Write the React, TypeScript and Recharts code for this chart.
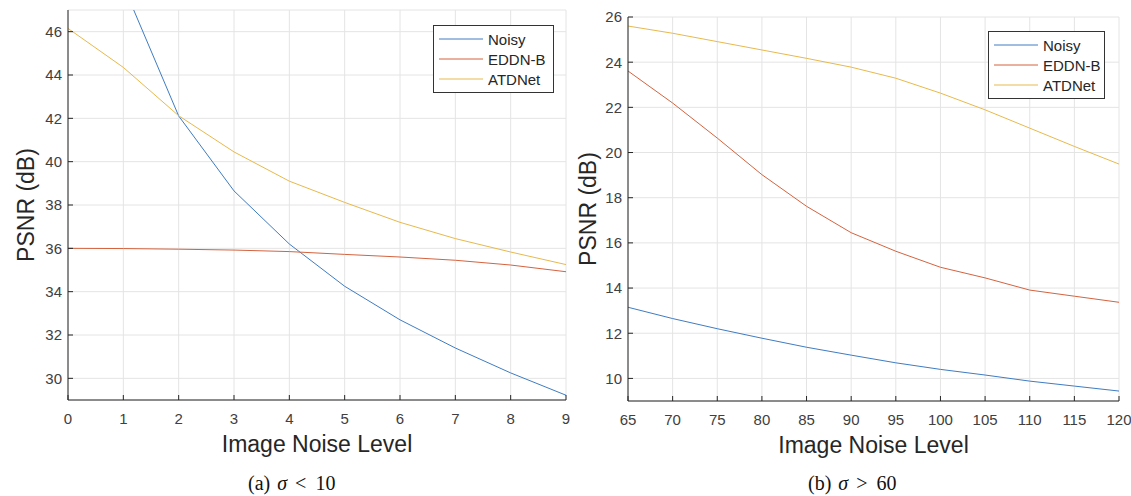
import { LineChart, Line, XAxis, YAxis, CartesianGrid, Legend } from "recharts";

// (a) sigma < 10
const levelsA = [0, 1, 2, 3, 4, 5, 6, 7, 8, 9];
const noisyA = [null, 48.13, 42.11, 38.65, 36.2, 34.25, 32.7, 31.4, 30.25, 29.22];
const eddnA = [36.0, 35.99, 35.96, 35.92, 35.85, 35.72, 35.6, 35.45, 35.23, 34.92];
const atdA = [46.15, 44.35, 42.12, 40.45, 39.1, 38.12, 37.2, 36.45, 35.83, 35.25];
const yTicksA = [30, 32, 34, 36, 38, 40, 42, 44, 46];

// (b) sigma > 60
const levelsB = [65, 70, 75, 80, 85, 90, 95, 100, 105, 110, 115, 120];
const noisyB = [13.15, 12.65, 12.2, 11.78, 11.38, 11.03, 10.69, 10.4, 10.15, 9.88, 9.66, 9.44];
const eddnB = [23.61, 22.19, 20.64, 19.02, 17.62, 16.45, 15.63, 14.92, 14.45, 13.91, 13.64, 13.37];
const atdB = [25.6, 25.28, 24.91, 24.54, 24.17, 23.78, 23.29, 22.63, 21.89, 21.08, 20.27, 19.49];
const yTicksB = [10, 12, 14, 16, 18, 20, 22, 24, 26];

const seriesNames = ["Noisy", "EDDN-B", "ATDNet"];

const BLUE = "#3f7cc2";
const RED = "#d4633f";
const YELLOW = "#e8b94c";
const colors = [BLUE, RED, YELLOW];
const SANS = "'Liberation Sans', Arial, sans-serif";
const SERIF = "'Liberation Serif', 'Times New Roman', serif";
const AXIS = "#262626";

const toRows = (xs: number[], n: (number | null)[], e: number[], a: number[]) =>
  xs.map((x, i) => ({ level: x, noisy: n[i], eddn: e[i], atd: a[i] }));

function LegendBox({ w }: { w: number }) {
  return (
    <div style={{ width: w, height: 63, border: "1px solid #333", background: "#fff", fontFamily: SANS, fontSize: 15, color: AXIS, paddingTop: 3 }}>
      {seriesNames.map((name, i) => (
        <div key={name} style={{ display: "flex", alignItems: "center", height: 20 }}>
          <svg width={54} height={20}>
            <line x1={5} x2={49} y1={10} y2={10} stroke={colors[i]} strokeWidth={1} />
          </svg>
          <span>{name}</span>
        </div>
      ))}
    </div>
  );
}

// MATLAB style ticks pointing into the plot
function XTick({ x, y, payload }: any) {
  return (
    <g>
      <line x1={x} x2={x} y1={y - 13} y2={y - 18} stroke={AXIS} />
      <text x={x} y={y} dy="0.71em" textAnchor="middle" fontSize={15} fill="#404040" fontFamily={SANS}>{payload.value}</text>
    </g>
  );
}

function YTick({ x, y, payload }: any) {
  return (
    <g>
      <line x1={x + 6} x2={x + 11} y1={y} y2={y} stroke={AXIS} />
      <text x={x} y={y} dy="0.355em" textAnchor="end" fontSize={15} fill="#404040" fontFamily={SANS}>{payload.value}</text>
    </g>
  );
}

type PanelProps = {
  data: any[];
  xTicks: number[];
  yTicks: number[];
  xDomain: [number, number];
  yDomain: [number, number];
  width: number;
  height: number;
  top: number;
  right: number;
  yLabelOffset: number;
  legendLeft: number;
  legendTop: number;
  legendW: number;
};

function Panel(p: PanelProps) {
  return (
    <LineChart width={p.width} height={p.height} data={p.data} margin={{ top: p.top, right: p.right, left: 0, bottom: 0 }}>
      <CartesianGrid stroke="#e4e4e4" />
      <XAxis
        dataKey="level"
        type="number"
        domain={p.xDomain}
        ticks={p.xTicks}
        interval={0}
        height={70}
        tickSize={0}
        tickMargin={13}
        tickLine={false}
        tick={<XTick />}
        stroke={AXIS}
        label={{ value: "Image Noise Level", position: "insideTop", offset: 36, style: { fontSize: 23, fill: AXIS, fontFamily: SANS } }}
      />
      <YAxis
        type="number"
        domain={p.yDomain}
        ticks={p.yTicks}
        interval={0}
        allowDataOverflow
        width={68}
        tickSize={0}
        tickMargin={6}
        tickLine={false}
        tick={<YTick />}
        stroke={AXIS}
        label={{ value: "PSNR (dB)", angle: -90, position: "insideLeft", offset: p.yLabelOffset, style: { fontSize: 23, fill: AXIS, fontFamily: SANS, textAnchor: "middle" } }}
      />
      <Legend
        layout="vertical"
        align="center"
        verticalAlign="middle"
        wrapperStyle={{ left: p.legendLeft, top: p.legendTop }}
        content={() => <LegendBox w={p.legendW} />}
      />
      <Line type="linear" dataKey="noisy" name="Noisy" stroke={BLUE} strokeWidth={1} dot={false} isAnimationActive={false} />
      <Line type="linear" dataKey="eddn" name="EDDN-B" stroke={RED} strokeWidth={1} dot={false} isAnimationActive={false} />
      <Line type="linear" dataKey="atd" name="ATDNet" stroke={YELLOW} strokeWidth={1} dot={false} isAnimationActive={false} />
    </LineChart>
  );
}

function Caption({ tag, rel, val, left }: { tag: string; rel: string; val: string; left: number }) {
  return (
    <div style={{ position: "absolute", left, top: 472, fontFamily: SERIF, fontSize: 20, color: "#111", whiteSpace: "nowrap", lineHeight: "22px" }}>
      <span>({tag})</span>
      <i style={{ marginLeft: 7 }}>σ</i>
      <span style={{ marginLeft: 8 }}>{rel}</span>
      <span style={{ marginLeft: 9 }}>{val}</span>
    </div>
  );
}

export default function App() {
  return (
    <div style={{ position: "absolute", left: 0, top: 0, width: 1131, height: 496, background: "#fff", overflow: "hidden" }}>
      <div style={{ position: "absolute", left: 0, top: 0 }}>
        <Panel
          data={toRows(levelsA, noisyA, eddnA, atdA)}
          xTicks={levelsA}
          yTicks={yTicksA}
          xDomain={[0, 9]}
          yDomain={[29, 47]}
          width={580}
          height={470}
          top={10}
          right={14}
          yLabelOffset={26}
          legendLeft={433}
          legendTop={25}
          legendW={119}
        />
      </div>
      <div style={{ position: "absolute", left: 560, top: 0 }}>
        <Panel
          data={toRows(levelsB, noisyB, eddnB, atdB)}
          xTicks={levelsB}
          yTicks={yTicksB}
          xDomain={[65, 120]}
          yDomain={[9, 26]}
          width={571}
          height={471}
          top={17}
          right={12}
          yLabelOffset={28}
          legendLeft={428}
          legendTop={31}
          legendW={115}
        />
      </div>
      <Caption tag="a" rel="<" val="10" left={248} />
      <Caption tag="b" rel=">" val="60" left={808} />
    </div>
  );
}
